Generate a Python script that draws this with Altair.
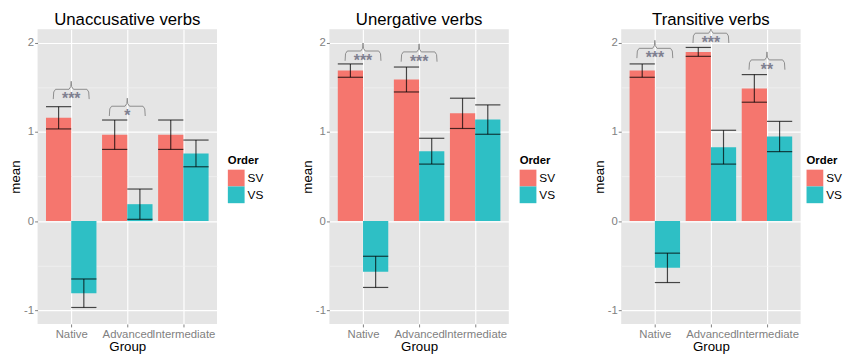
import altair as alt
import pandas as pd

groups = ["Native", "Advanced", "Intermediate"]
orders = ["SV", "VS"]
colors = ["#F5766E", "#2EBFC5"]
titles = ["Unaccusative verbs", "Unergative verbs", "Transitive verbs"]

# Unaccusative verbs
unacc_sv_mean = [1.16, 0.97, 0.97]
unacc_sv_se = [0.125, 0.165, 0.165]
unacc_vs_mean = [-0.81, 0.19, 0.76]
unacc_vs_se = [0.16, 0.17, 0.15]
unacc_sig_groups = ["Native", "Advanced"]
unacc_sig_level = [1.48, 1.29]
unacc_sig_label = ["***", "*"]

# Unergative verbs
unerg_sv_mean = [1.69, 1.59, 1.21]
unerg_sv_se = [0.075, 0.14, 0.17]
unerg_vs_mean = [-0.57, 0.785, 1.14]
unerg_vs_se = [0.175, 0.145, 0.165]
unerg_sig_groups = ["Native", "Advanced"]
unerg_sig_level = [1.91, 1.90]
unerg_sig_label = ["***", "***"]

# Transitive verbs
trans_sv_mean = [1.69, 1.90, 1.49]
trans_sv_se = [0.075, 0.05, 0.155]
trans_vs_mean = [-0.525, 0.83, 0.95]
trans_vs_se = [0.165, 0.19, 0.17]
trans_sig_groups = ["Native", "Advanced", "Intermediate"]
trans_sig_level = [1.94, 2.11, 1.81]
trans_sig_label = ["***", "***", "**"]

FONT = "Liberation Sans"
BAR_W = 0.45
XDOM = [0.4, 3.6]
YDOM = [-1.155, 2.155]

label_expr = " : ".join(
    [f"datum.value == {i + 1} ? '{g}'" for i, g in enumerate(groups)]
) + " : ''"

x_scale = alt.Scale(domain=XDOM, nice=False, zero=False)
y_scale = alt.Scale(domain=YDOM, nice=False, zero=False)
x_axis = alt.Axis(values=[1, 2, 3], labelExpr=label_expr, grid=True,
                  gridColor="#FFFFFF", gridWidth=1.2, labelOverlap=False)
y_axis = alt.Axis(
    values=[-1, -0.5, 0, 0.5, 1, 1.5, 2],
    labelExpr="datum.value % 1 === 0 ? '' + datum.value : ''",
    grid=True,
    gridColor={"condition": {"test": "datum.value % 1 !== 0", "value": "#F2F2F2"},
               "value": "#FFFFFF"},
    gridWidth={"condition": {"test": "datum.value % 1 !== 0", "value": 0.7},
               "value": 1.2},
    tickOpacity={"condition": {"test": "datum.value % 1 !== 0", "value": 0},
                 "value": 1},
)


def X(field):
    return alt.X(field, type="quantitative", scale=x_scale, axis=x_axis, title="Group")


def Y(field):
    return alt.Y(field, type="quantitative", scale=y_scale, axis=y_axis, title="mean")


def panel(title, sv_mean, sv_se, vs_mean, vs_se, sig_groups, sig_level, sig_label,
          legend_x):
    rows = []
    for gi, g in enumerate(groups):
        for oi, (o, m, s) in enumerate([("SV", sv_mean[gi], sv_se[gi]),
                                         ("VS", vs_mean[gi], vs_se[gi])]):
            c = gi + 1 + (oi - 0.5) * BAR_W
            rows.append({"Group": g, "Order": o, "center": c,
                         "left": c - BAR_W / 2, "right": c + BAR_W / 2,
                         "mean": m, "zero": 0.0, "lo": m - s, "hi": m + s})
    df = pd.DataFrame(rows)

    # brace shapes built around each significance level
    brows = []
    trows = []
    w, arm, tick = 0.32, 0.11, 0.09
    shape = [(-w, -arm), (-w + 0.008, -0.03), (-w + 0.04, 0.0), (-0.04, 0.0),
             (-0.008, 0.03), (0.0, tick), (0.008, 0.03), (0.04, 0.0),
             (w - 0.04, 0.0), (w - 0.008, -0.03), (w, -arm)]
    for bi, (g, lvl, lab) in enumerate(zip(sig_groups, sig_level, sig_label)):
        gx = groups.index(g) + 1
        for k, (dx, dy) in enumerate(shape):
            brows.append({"bid": bi, "k": k, "bx": gx + dx, "by": lvl + dy})
        trows.append({"gx": gx, "lvl": lvl, "label": lab})
    bdf = pd.DataFrame(brows)
    tdf = pd.DataFrame(trows)

    bars = alt.Chart(df).mark_bar().encode(
        x=X("left"), x2="right", y=Y("mean"), y2="zero",
        color=alt.Color(
            "Order:N",
            scale=alt.Scale(domain=orders, range=colors),
            legend=alt.Legend(
                title="Order", orient="none", legendX=legend_x, legendY=128,
                titleFontSize=11.5, titleFontWeight="bold", titleColor="#000000",
                titleFont=FONT, titlePadding=3,
                labelFontSize=12, labelFont=FONT, labelColor="#000000",
                labelOffset=3,
                symbolType="square", symbolSize=289, symbolStrokeWidth=0,
                symbolOpacity=1, rowPadding=0, padding=0,
            ),
        ),
    )
    vline = alt.Chart(df).mark_rule(color="#000000", opacity=0.7, strokeWidth=1.2).encode(
        x=X("center"), y=Y("lo"), y2="hi")
    cap_lo = alt.Chart(df).mark_rule(color="#000000", opacity=0.7, strokeWidth=1.2).encode(
        x=X("left"), x2="right", y=Y("lo"))
    cap_hi = alt.Chart(df).mark_rule(color="#000000", opacity=0.7, strokeWidth=1.2).encode(
        x=X("left"), x2="right", y=Y("hi"))
    braces = alt.Chart(bdf).mark_line(color="#8C8C8C", strokeWidth=1, clip=True).encode(
        x=X("bx"), y=Y("by"), detail="bid:N", order="k:Q")
    stars = alt.Chart(tdf).mark_text(
        fontSize=16, font=FONT, fontWeight="bold", color="#7F8090",
        baseline="alphabetic", dy=15
    ).encode(x=X("gx"), y=Y("lvl"), text="label:N")

    return alt.layer(bars, vline, cap_lo, cap_hi, braces, stars).properties(
        width=182, height=299,
        title=alt.TitleParams(text=title, fontSize=17, fontWeight="normal",
                              font=FONT, color="#000000", anchor="middle",
                              frame="group", offset=0.5),
    )


p1 = panel(titles[0], unacc_sv_mean, unacc_sv_se, unacc_vs_mean, unacc_vs_se,
           unacc_sig_groups, unacc_sig_level, unacc_sig_label, 193)
p2 = panel(titles[1], unerg_sv_mean, unerg_sv_se, unerg_vs_mean, unerg_vs_se,
           unerg_sig_groups, unerg_sig_level, unerg_sig_label, 193)
p3 = panel(titles[2], trans_sv_mean, trans_sv_se, trans_vs_mean, trans_vs_se,
           trans_sig_groups, trans_sig_level, trans_sig_label, 188)

chart = alt.hconcat(p1, p2, p3, spacing=36).resolve_scale(
    color="independent"
).resolve_legend(color="independent").properties(
    padding={"left": 0, "top": 0, "right": 0, "bottom": 0}
).configure_view(
    fill="#E5E5E5", stroke=None
).configure_axis(
    domain=False,
    labelFont=FONT, labelFontSize=11.5, labelColor="#7F7F7F",
    tickColor="#7F7F7F", tickSize=3, tickWidth=1,
    titleFont=FONT, titleFontSize=13.5, titleFontWeight="normal", titleColor="#000000",
).configure_axisX(
    labelPadding=2, titlePadding=-1
).configure_axisY(
    labelPadding=1, titlePadding=1
)

chart.save("out.html", embed_options={"renderer": "svg", "actions": False})
